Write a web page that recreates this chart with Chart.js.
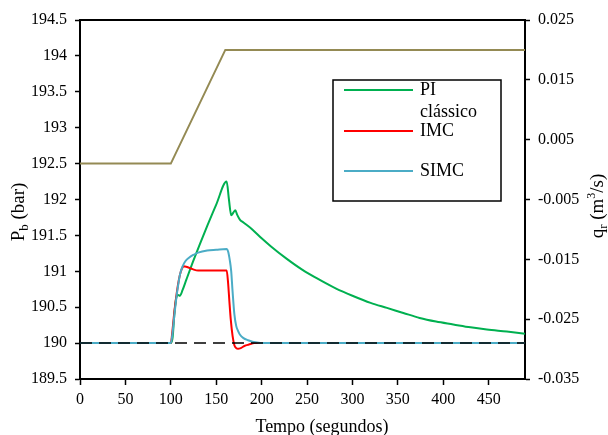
<!DOCTYPE html>
<html>
<head>
<meta charset="utf-8">
<script src="https://cdn.jsdelivr.net/npm/chart.js@4.4.1/dist/chart.umd.min.js"></script>
<style>
  html, body { margin: 0; padding: 0; background: #fff; }
  canvas { display: block; }
</style>
</head>
<body>
<canvas id="pressao" width="608" height="435"></canvas>
<script>
// caudal de referência q_r (eixo direito)
const tRef = [0, 100, 160, 490];
const qRef = [0.001, 0.001, 0.02, 0.02];

// set-point da pressão
const tSp = [0, 490];
const pSp = [190, 190];

// PI clássico
const tPI = [0, 100, 102, 104, 106, 108, 110, 113, 117, 124, 132, 140, 150, 161.5, 164, 166.5, 169, 171, 173, 176,
             180, 190, 200, 210, 227, 245, 264, 282, 300, 320, 338, 356, 374, 392, 411, 430, 448, 470, 490];
const pPI = [190, 190, 190.08, 190.42, 190.63, 190.67, 190.66, 190.74, 190.88, 191.12, 191.38, 191.63, 191.93, 192.25, 192.0, 191.78, 191.82, 191.85, 191.79, 191.72,
             191.68, 191.58, 191.46, 191.35, 191.18, 191.02, 190.88, 190.76, 190.66, 190.56, 190.49, 190.42, 190.35, 190.30, 190.26, 190.22, 190.19, 190.16, 190.13];

// IMC
const tIMC = [0, 100, 102, 104, 106, 108, 110, 112, 114, 118, 124, 130, 140, 150, 161.5, 163, 164.5, 166, 168, 170, 172, 174, 177, 181, 186, 192, 210, 490];
const pIMC = [190, 190, 190.2, 190.45, 190.65, 190.82, 190.95, 191.03, 191.07, 191.06, 191.03, 191.01, 191.01, 191.01, 191.01, 190.85, 190.58, 190.33, 190.1, 189.97, 189.93, 189.92, 189.93, 189.96, 189.98, 190.0, 190.0, 190.0];

// SIMC
const tSIMC = [0, 100, 102, 104, 106, 108, 110, 113, 116, 120, 125, 130, 140, 150, 161.5, 163, 165, 166.5, 168, 170, 172, 174, 176, 180, 185, 190, 195, 200, 210, 490];
const pSIMC = [190, 190, 190.15, 190.4, 190.62, 190.8, 190.95, 191.07, 191.14, 191.19, 191.23, 191.26, 191.29, 191.3, 191.31, 191.28, 191.15, 191.0, 190.72, 190.4, 190.24, 190.17, 190.12, 190.07, 190.04, 190.02, 190.01, 190.0, 190.0, 190.0];

// marcas dos eixos
const xTicks = [0, 50, 100, 150, 200, 250, 300, 350, 400, 450];
const yTicks = [189.5, 190, 190.5, 191, 191.5, 192, 192.5, 193, 193.5, 194, 194.5];
const y2Ticks = [-0.035, -0.025, -0.015, -0.005, 0.005, 0.015, 0.025];

const SERIF = "'Liberation Serif', 'Times New Roman', serif";

function pts(t, v) {
  return t.map((x, i) => ({ x: x, y: v[i] }));
}

function line(label, t, v, color, axis, order, extra) {
  return Object.assign({
    label: label,
    data: pts(t, v),
    borderColor: color,
    backgroundColor: color,
    borderWidth: 2,
    pointRadius: 0,
    cubicInterpolationMode: 'monotone',
    yAxisID: axis,
    order: order
  }, extra || {});
}

// escreve texto com sub/sobrescritos, centrado em (0,0)
function drawRich(ctx, parts) {
  let w = 0;
  parts.forEach(p => {
    ctx.font = p.size + 'px ' + SERIF;
    p.w = ctx.measureText(p.text).width;
    w += p.w;
  });
  let x = -w / 2;
  ctx.textBaseline = 'alphabetic';
  ctx.textAlign = 'left';
  parts.forEach(p => {
    ctx.font = p.size + 'px ' + SERIF;
    ctx.fillText(p.text, x, 6 + (p.dy || 0));
    x += p.w;
  });
}

const decor = {
  id: 'decor',
  afterDraw(chart) {
    const ctx = chart.ctx;
    const a = chart.chartArea;
    ctx.save();
    ctx.fillStyle = '#000';
    ctx.strokeStyle = '#000';

    // linha de topo da moldura
    ctx.lineWidth = 2;
    ctx.beginPath();
    ctx.moveTo(a.left, a.top);
    ctx.lineTo(a.right, a.top);
    ctx.stroke();

    // título do eixo x
    ctx.font = '18px ' + SERIF;
    ctx.textAlign = 'center';
    ctx.textBaseline = 'alphabetic';
    ctx.fillText('Tempo (segundos)', 322, 432);

    // título do eixo esquerdo
    ctx.save();
    ctx.translate(18, 212);
    ctx.rotate(-Math.PI / 2);
    drawRich(ctx, [
      { text: 'P', size: 19 },
      { text: 'b', size: 13, dy: 4 },
      { text: ' (bar)', size: 19 }
    ]);
    ctx.restore();

    // título do eixo direito
    ctx.save();
    ctx.translate(597, 206);
    ctx.rotate(-Math.PI / 2);
    drawRich(ctx, [
      { text: 'q', size: 19 },
      { text: 'r', size: 13, dy: 4 },
      { text: ' (m', size: 19 },
      { text: '3', size: 12, dy: -8 },
      { text: '/s)', size: 19 }
    ]);
    ctx.restore();

    // legenda
    ctx.lineWidth = 1.5;
    ctx.strokeRect(333, 80, 168, 121);
    const items = [
      { color: '#00b050', y: 90, lines: ['PI', 'clássico'] },
      { color: '#ff0000', y: 131, lines: ['IMC'] },
      { color: '#4bacc6', y: 171, lines: ['SIMC'] }
    ];
    ctx.font = '18px ' + SERIF;
    ctx.textAlign = 'left';
    ctx.textBaseline = 'middle';
    items.forEach(it => {
      ctx.strokeStyle = it.color;
      ctx.lineWidth = 2;
      ctx.beginPath();
      ctx.moveTo(344, it.y);
      ctx.lineTo(413, it.y);
      ctx.stroke();
      it.lines.forEach((s, i) => ctx.fillText(s, 420, it.y + i * 22));
    });
    ctx.restore();
  }
};

const axisCommon = {
  border: { display: true, color: '#000', width: 2 },
  grid: { drawOnChartArea: false, drawTicks: true, tickLength: 5, tickWidth: 1.5, tickColor: '#000' },
  ticks: { color: '#000', font: { family: SERIF, size: 16 }, padding: 8 }
};

new Chart(document.getElementById('pressao'), {
  type: 'line',
  data: {
    datasets: [
      line('setpoint', tSp, pSp, '#000', 'y', 0, { borderWidth: 1.5, borderDash: [12, 7], cubicInterpolationMode: 'default', tension: 0 }),
      line('SIMC', tSIMC, pSIMC, '#4bacc6', 'y', 1),
      line('IMC', tIMC, pIMC, '#ff0000', 'y', 2),
      line('PI clássico', tPI, pPI, '#00b050', 'y', 3),
      line('q_r', tRef, qRef, '#948a54', 'y2', 4, { cubicInterpolationMode: 'default', tension: 0 })
    ]
  },
  options: {
    responsive: false,
    animation: false,
    layout: { padding: { top: 20, left: 0, right: 0, bottom: 0 } },
    plugins: { legend: { display: false }, tooltip: { enabled: false } },
    scales: {
      x: Object.assign({}, axisCommon, {
        type: 'linear',
        position: 'bottom',
        min: 0,
        max: 490,
        grid: Object.assign({}, axisCommon.grid, { tickLength: 6 }),
        ticks: Object.assign({}, axisCommon.ticks, { padding: 5, maxRotation: 0 }),
        afterBuildTicks: s => { s.ticks = xTicks.map(v => ({ value: v })); },
        afterFit: s => { s.height = 56; }
      }),
      y: Object.assign({}, axisCommon, {
        type: 'linear',
        position: 'left',
        min: 189.5,
        max: 194.5,
        afterBuildTicks: s => { s.ticks = yTicks.map(v => ({ value: v })); },
        ticks: Object.assign({}, axisCommon.ticks, { callback: v => String(v) }),
        afterFit: s => { s.width = 80; }
      }),
      y2: Object.assign({}, axisCommon, {
        type: 'linear',
        position: 'right',
        min: -0.035,
        max: 0.025,
        afterBuildTicks: s => { s.ticks = y2Ticks.map(v => ({ value: v })); },
        ticks: Object.assign({}, axisCommon.ticks, { callback: v => v.toFixed(3) }),
        afterFit: s => { s.width = 83; }
      })
    }
  },
  plugins: [decor]
});
</script>
</body>
</html>
